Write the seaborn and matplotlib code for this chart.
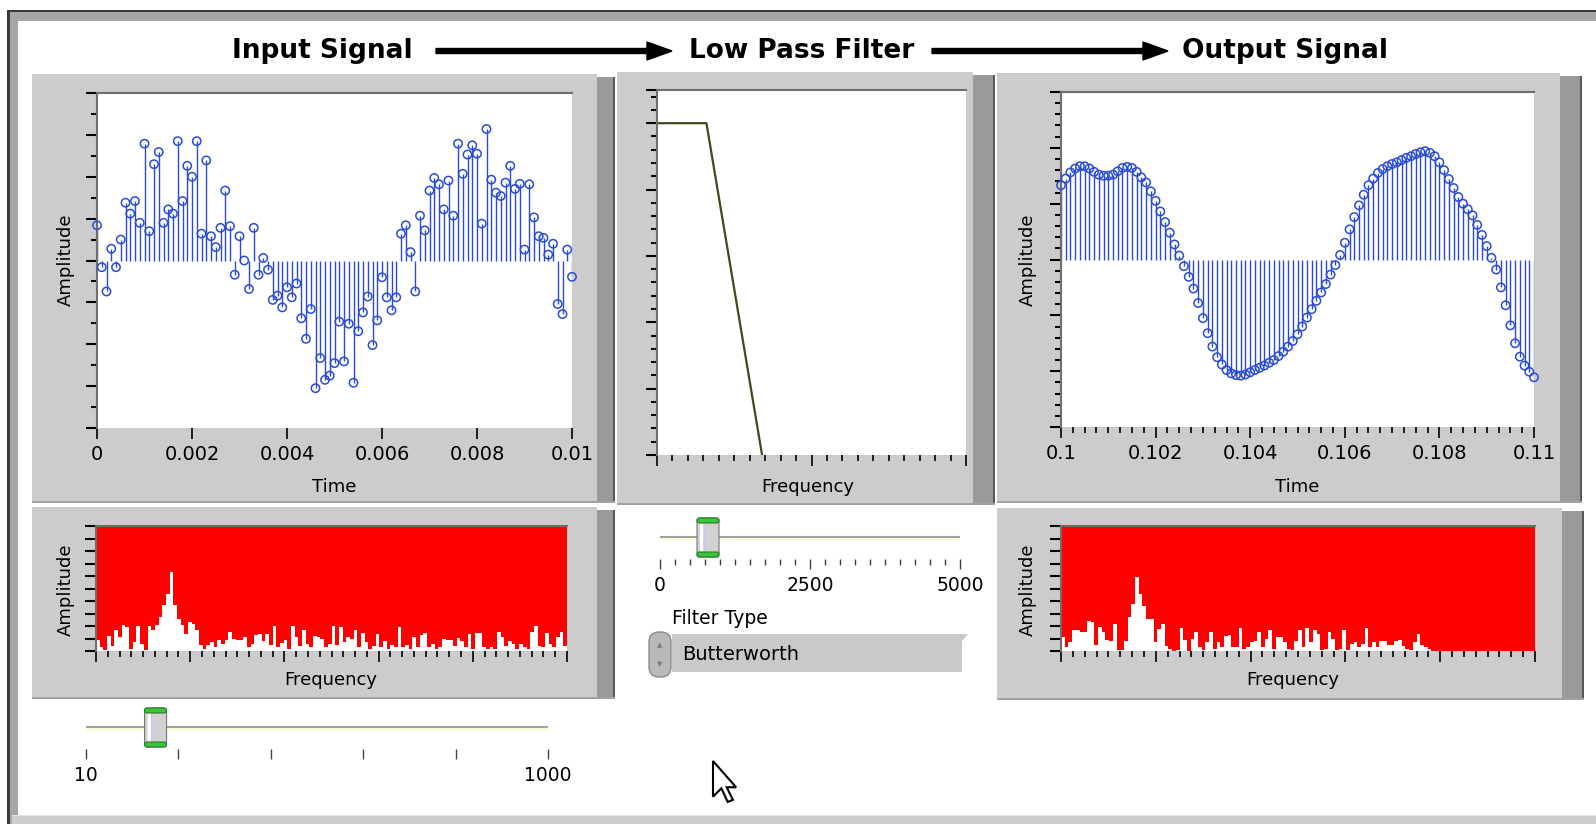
"""
Low pass filter demo panel: input signal, filter response and filtered output,
each signal with its amplitude spectrum, plus the two slider controls.
"""

import numpy as np
import matplotlib
matplotlib.use("Agg")
import matplotlib.pyplot as plt
import matplotlib.transforms as mtransforms
from matplotlib.patches import Rectangle, FancyBboxPatch, Polygon
from matplotlib.ticker import MultipleLocator, FixedLocator, NullFormatter
import seaborn as sns

# ---- values ----
input_amp = [
    0.84, -0.16, -0.74, 0.28, -0.16, 0.50, 1.38, 1.12, 1.42, 0.90,
    2.79, 0.70, 2.30, 2.59, 0.90, 1.22, 1.12, 2.85, 1.42, 2.26,
    2.00, 2.85, 0.64, 2.39, 0.58, 0.32, 0.78, 1.67, 0.82, -0.34,
    0.58, 0.00, -0.68, 0.78, -0.34, 0.06, -0.22, -0.94, -0.84, -1.12,
    -0.64, -0.88, -0.55, -1.38, -1.87, -1.16, -3.05, -2.33, -2.85, -2.75,
    -2.45, -1.46, -2.41, -1.51, -2.92, -1.69, -1.24, -0.86, -2.02, -1.43,
    -0.40, -0.88, -1.19, -0.88, 0.64, 0.84, 0.20, -0.74, 1.07, 0.72,
    1.67, 1.97, 1.82, 1.22, 1.91, 1.07, 2.79, 2.07, 2.53, 2.75,
    2.55, 0.88, 3.14, 1.93, 1.62, 1.54, 1.86, 2.26, 1.71, 1.83,
    0.26, 1.82, 1.03, 0.58, 0.54, 0.14, 0.40, -1.04, -1.28, 0.26,
    -0.39,
]
output_amp = [
    1.33, 1.45, 1.56, 1.63, 1.67, 1.67, 1.63, 1.57, 1.52, 1.50,
    1.50, 1.52, 1.58, 1.64, 1.66, 1.64, 1.57, 1.47, 1.38, 1.22,
    1.05, 0.86, 0.67, 0.48, 0.27, 0.07, -0.12, -0.31, -0.52, -0.78,
    -1.05, -1.32, -1.56, -1.75, -1.88, -1.98, -2.04, -2.07, -2.08, -2.06,
    -2.02, -1.98, -1.94, -1.90, -1.85, -1.80, -1.73, -1.65, -1.56, -1.46,
    -1.34, -1.20, -1.04, -0.89, -0.74, -0.59, -0.44, -0.27, -0.10, 0.08,
    0.30, 0.54, 0.76, 0.97, 1.16, 1.33, 1.45, 1.55, 1.62, 1.67,
    1.71, 1.74, 1.78, 1.82, 1.85, 1.89, 1.92, 1.94, 1.91, 1.85,
    1.74, 1.60, 1.44, 1.28, 1.12, 1.00, 0.90, 0.79, 0.62, 0.44,
    0.24, 0.03, -0.18, -0.50, -0.82, -1.18, -1.50, -1.74, -1.90, -2.01,
    -2.11,
]
input_spectrum = [
    0.85, 0.3, 0.1, 1.2, 0.4, 1.65, 1.1, 2.1, 1.9, 0.2,
    0.7, 2.0, 0.6, 0.1, 2.0, 1.7, 2.1, 2.7, 3.7, 4.6,
    6.3, 3.7, 2.6, 2.1, 1.4, 2.3, 2.2, 1.7, 0.45, 0.2,
    0.45, 0.7, 0.3, 0.85, 0.6, 0.9, 1.5, 1.0, 0.85, 0.9,
    1.1, 0.3, 0.6, 1.25, 1.35, 0.8, 1.35, 0.45, 2.0, 0.3,
    0.65, 0.85, 0.2, 2.0, 1.1, 0.4, 1.65, 0.6, 0.3, 1.2,
    1.1, 1.0, 0.3, 0.55, 2.0, 0.5, 1.9, 0.7, 1.1, 1.0,
    1.65, 0.3, 1.45, 0.7, 0.2, 0.4, 1.35, 0.3, 0.8, 0.2,
    0.45, 0.3, 1.9, 0.3, 0.45, 0.2, 1.1, 0.3, 1.25, 1.45,
    0.3, 0.55, 0.2, 0.3, 1.0, 0.9, 0.9, 0.4, 1.05, 0.8,
    0.3, 1.35, 0.2, 1.45, 1.45, 0.3, 0.2, 0.3, 0.2, 1.5,
    1.1, 0.4, 0.8, 0.6, 0.2, 0.55, 0.3, 0.2, 1.5, 2.0,
    0.4, 0.3, 1.45, 0.6, 0.3, 1.1, 1.5, 0.4,
]
output_spectrum = [
    1.15, 0.3, 0.7, 1.65, 1.65, 1.5, 1.5, 2.4, 2.3, 0.5,
    1.95, 1.5, 0.85, 0.8, 2.15, 0.1, 0.1, 0.8, 2.7, 3.8,
    5.9, 4.6, 3.6, 2.55, 2.6, 0.7, 1.75, 2.15, 0.4, 0.2,
    0.0, 0.1, 1.85, 0.85, 0.0, 0.95, 1.5, 0.3, 0.1, 0.7,
    1.5, 0.15, 0.7, 0.3, 1.2, 1.3, 0.3, 0.3, 1.85, 0.2,
    0.3, 0.7, 0.8, 1.5, 0.3, 0.95, 1.65, 0.2, 1.1, 1.15,
    0.7, 0.2, 0.1, 0.8, 1.65, 0.3, 1.85, 0.7, 1.65, 1.4,
    0.1, 0.2, 1.5, 0.95, 0.1, 0.2, 1.65, 0.1, 0.55, 0.7,
    0.3, 0.55, 1.85, 0.3, 0.7, 0.3, 0.8, 0.8, 0.5, 0.5,
    0.8, 0.85, 0.4, 0.15, 0.1, 0.7, 1.35, 0.5, 0.3, 0.15,
    0.0, 0.0, 0.0, 0.0, 0.0, 0.0, 0.0, 0.0, 0.0, 0.0,
    0.0, 0.0, 0.0, 0.0, 0.0, 0.0, 0.0, 0.0, 0.0, 0.0,
    0.0, 0.0, 0.0, 0.0, 0.0, 0.0, 0.0, 0.0,
]
filter_freq = [0, 800, 1700]
filter_db = [0, 0, -100]

input_time_ticks = [0, 0.002, 0.004, 0.006, 0.008, 0.01]
input_time_labels = ["0", "0.002", "0.004", "0.006", "0.008", "0.01"]
output_time_ticks = [0.1, 0.102, 0.104, 0.106, 0.108, 0.11]
output_time_labels = ["0.1", "0.102", "0.104", "0.106", "0.108", "0.11"]

signal_freq = 20
signal_freq_ticks = [10, 25, 63, 158, 398, 1000]
signal_freq_labels = ["10", "", "", "", "", "1000"]
cutoff_freq = 800
cutoff_ticks = [0, 2500, 5000]
cutoff_labels = ["0", "2500", "5000"]
cutoff_minor_ticks = [250, 500, 750, 1000, 1250, 1500, 1750, 2000, 2250,
                      2750, 3000, 3250, 3500, 3750, 4000, 4250, 4500, 4750]
filter_type = "Butterworth"
titles = ["Input Signal", "Low Pass Filter", "Output Signal"]

dt = 1e-4
t_in = np.arange(len(input_amp)) * dt
t_out = 0.1 + np.arange(len(output_amp)) * dt
nyquist = 5000
bin_width = nyquist / len(input_spectrum)
spec_freq = np.arange(len(input_spectrum)) * bin_width

# ---- layout (pixels) ----
W, H = 1596, 824
BLUE = "#2a4bd7"
GRAY = "#cccccc"
SHADOW = "#9a9a9a"

BOX_IN = (97, 93, 572, 428)
BOX_IN_SPEC = (96, 526, 567, 651)
BOX_FILTER = (657, 90, 966, 455)
BOX_OUT = (1061, 92, 1534, 427)
BOX_OUT_SPEC = (1061, 526, 1535, 651)
BOX_SLIDER_F = (86, 700, 548, 749)
BOX_SLIDER_C = (660, 510, 960, 559)

sns.set_style("white")
plt.rcParams["font.family"] = ["DejaVu Sans"]
plt.rcParams.update({"text.color": "black", "axes.labelcolor": "black",
                     "xtick.color": "black", "ytick.color": "black"})

fig = plt.figure(figsize=(W / 100, H / 100), dpi=100)
fig.patch.set_facecolor("white")

bg = fig.add_axes([0, 0, 1, 1])
bg.set_xlim(0, W)
bg.set_ylim(H, 0)
bg.axis("off")


def rect(x0, y0, x1, y1, fc, **kw):
    bg.add_patch(Rectangle((x0, y0), x1 - x0, y1 - y0, fc=fc, ec="none", **kw))


# window frame
rect(7, 10, W + 5, H + 5, "#3a3a3a")
rect(10, 12, W + 5, H + 5, "#a6a6a6")
rect(18, 21, W + 5, 815, "white")
rect(12, 815, W + 5, H + 5, "#cdcdcd")
rect(12, 815, W + 5, 816, "#e4e4e4")

# raised gray panels behind the graphs: (left, top, right, bottom, shadow right)
for x0, y0, x1, y1, sx in [(32, 74, 597, 503, 615), (32, 507, 597, 699, 615),
                           (617, 72, 973, 505, 995), (997, 73, 1560, 503, 1582),
                           (997, 508, 1562, 700, 1584)]:
    rect(x0, y0, x1, y1, GRAY)
    rect(x1, y0 + 3, sx, y1, SHADOW)
    rect(sx - 2, y0 + 3, sx, y1, "#5a5a5a")
    rect(x0, y1 - 2, sx, y1, "#a2a2a2")

# titles and arrows
for x, s in zip([322, 802, 1285], titles):
    bg.text(x, 51, s, ha="center", va="center", fontsize=19, fontweight="bold")
for x0, x1 in [(436, 672), (932, 1168)]:
    bg.arrow(x0, 51, x1 - x0, 0, width=5, head_width=18, head_length=25,
             length_includes_head=True, fc="black", ec="black")


def px_axes(box):
    x0, y0, x1, y1 = box
    return fig.add_axes([x0 / W, 1 - y1 / H, (x1 - x0) / W, (y1 - y0) / H])


def style_plot(ax, face):
    ax.set_facecolor(face)
    for side in ("right", "bottom"):
        ax.spines[side].set_visible(False)
    for side in ("top", "left"):
        ax.spines[side].set_color("#6e6e6e")
        ax.spines[side].set_linewidth(1.5)
    ax.tick_params(which="both", direction="out", colors="black", left=True,
                   bottom=True, top=False, right=False, labelleft=False)
    ax.tick_params(axis="y", which="major", length=8, width=1.5)
    ax.tick_params(axis="y", which="minor", length=4.5, width=1.5)
    ax.tick_params(axis="x", which="major", length=8, width=1.2, pad=4.5, labelsize=14)
    ax.tick_params(axis="x", which="minor", length=4.5, width=1.2)


def place_labels(ax, box, xlabel=None, xpos=None, ylabel=None, ypos=None):
    x0, y0, x1, y1 = box
    if xlabel:
        ax.set_xlabel(xlabel, fontsize=13, visible=True)
        ax.xaxis.set_label_coords((xpos[0] - x0) / (x1 - x0), (y1 - xpos[1]) / (y1 - y0))
        ax.xaxis.label.set_va("center")
    if ylabel:
        ax.set_ylabel(ylabel, fontsize=13, visible=True)
        ax.yaxis.set_label_coords((ypos[0] - x0) / (x1 - x0), (y1 - ypos[1]) / (y1 - y0))
        ax.yaxis.label.set_va("center")


def stem_plot(ax, t, amp):
    ax.vlines(t, 0, amp, color=BLUE, lw=1.0)
    sns.scatterplot(x=t, y=amp, ax=ax, marker="o", s=36, legend=False, zorder=3,
                    clip_on=False)
    pts = ax.collections[-1]
    pts.set_facecolor("none")
    pts.set_edgecolor(BLUE)
    pts.set_linewidth(1.1)


def spectrum_plot(ax, spec):
    style_plot(ax, "#ff0000")
    ax.bar(spec_freq, spec, width=bin_width, align="edge", color="white", linewidth=0)
    ax.set_xlim(0, nyquist)
    ax.set_ylim(0, 10)
    ax.yaxis.set_major_locator(MultipleLocator(1))
    ax.xaxis.set_major_locator(MultipleLocator(1000))
    ax.xaxis.set_minor_locator(MultipleLocator(125))
    ax.xaxis.set_major_formatter(NullFormatter())


# input signal
ax = px_axes(BOX_IN)
style_plot(ax, "white")
stem_plot(ax, t_in, input_amp)
ax.set_xlim(0, 0.01)
ax.set_ylim(-4, 4)
ax.yaxis.set_major_locator(MultipleLocator(1))
ax.yaxis.set_minor_locator(MultipleLocator(0.5))
ax.set_xticks(input_time_ticks, input_time_labels)
place_labels(ax, BOX_IN, "Time", (334, 487), "Amplitude", (66, 260))

ax = px_axes(BOX_IN_SPEC)
spectrum_plot(ax, input_spectrum)
place_labels(ax, BOX_IN_SPEC, "Frequency", (331, 680), "Amplitude", (66, 590))

# filter response
ax = px_axes(BOX_FILTER)
style_plot(ax, "white")
sns.lineplot(x=filter_freq, y=filter_db, ax=ax, color="#46461c", lw=1.6)
ax.set_xlim(0, nyquist)
ax.set_ylim(-100, 10)
ax.yaxis.set_major_locator(FixedLocator([-100, -80, -60, -40, -20, 0, 10]))
ax.yaxis.set_minor_locator(MultipleLocator(4))
ax.xaxis.set_major_locator(MultipleLocator(2500))
ax.xaxis.set_minor_locator(MultipleLocator(250))
ax.xaxis.set_major_formatter(NullFormatter())
place_labels(ax, BOX_FILTER, "Frequency", (808, 487))

# output signal
ax = px_axes(BOX_OUT)
style_plot(ax, "white")
stem_plot(ax, t_out, output_amp)
ax.set_xlim(0.1, 0.11)
ax.set_ylim(-3, 3)
ax.yaxis.set_major_locator(MultipleLocator(1))
ax.yaxis.set_minor_locator(MultipleLocator(0.2))
ax.set_xticks(output_time_ticks, output_time_labels)
ax.xaxis.set_minor_locator(MultipleLocator(0.00025))
place_labels(ax, BOX_OUT, "Time", (1297, 487), "Amplitude", (1028, 260))

ax = px_axes(BOX_OUT_SPEC)
spectrum_plot(ax, output_spectrum)
place_labels(ax, BOX_OUT_SPEC, "Frequency", (1293, 680), "Amplitude", (1028, 590))


# sliders
def draw_thumb(ax, value, y):
    cx, cy = ax.transData.transform((value, y))
    at = mtransforms.Affine2D().translate(cx, cy)
    parts = [
        (-11, -19.5, 22, 39, "#d2d2d2", "#767676"),
        (-8, -15, 3.5, 30, "#ffffff", "none"),
        (-4.5, -15, 1.5, 30, "#c4c4ff", "none"),
        (-11, 14.5, 22, 5, "#3cc43c", "#237f23"),
        (-11, -19.5, 22, 5, "#3cc43c", "#237f23"),
    ]
    for x0, y0, w, h, fc, ec in parts:
        fig.add_artist(FancyBboxPatch((x0, y0), w, h, boxstyle="round,pad=0,rounding_size=2.5",
                                      fc=fc, ec=ec, lw=0.8, transform=at, clip_on=False))


def slider(box, scale, lim, value, ticks, labels, minor=None):
    ax = px_axes(box)
    ax.set_facecolor("none")
    for s in ax.spines.values():
        s.set_visible(False)
    ax.set_xscale(scale)
    ax.set_xlim(*lim)
    ax.set_ylim(box[3] - box[1], 0)
    ax.axhline(27, color="#a0a0a0", lw=1.5)
    ax.axhline(29, color="#fbfbd2", lw=1.5)
    ax.xaxis.set_major_locator(FixedLocator(ticks))
    ax.set_xticklabels(labels)
    ax.xaxis.set_minor_locator(FixedLocator(minor or []))
    ax.tick_params(which="both", direction="out", colors="#404040", labelcolor="black",
                   left=False, bottom=True, labelleft=False, labelsize=13.5)
    ax.tick_params(which="major", length=7, width=1, pad=5)
    ax.tick_params(which="minor", length=4.5, width=1)
    draw_thumb(ax, value, 27.5)
    return ax


slider(BOX_SLIDER_F, "log", (10, 1000), signal_freq, signal_freq_ticks, signal_freq_labels)
slider(BOX_SLIDER_C, "linear", (0, nyquist), cutoff_freq, cutoff_ticks, cutoff_labels,
       minor=cutoff_minor_ticks)

# filter type ring control
bg.text(672, 618, "Filter Type", ha="left", va="center", fontsize=13.5)
bg.add_patch(Polygon([(672, 634), (968, 634), (962, 641), (962, 672), (672, 672)],
                     closed=True, fc="#c9c9c9", ec="none"))
bg.add_patch(FancyBboxPatch((649, 632), 22, 45, boxstyle="round,pad=0,rounding_size=10",
                            fc="#b9b9b9", ec="#8c8c8c", lw=1))
bg.text(660, 645, "\u25b2", ha="center", va="center", fontsize=5, color="#7a7a7a")
bg.text(660, 664, "\u25bc", ha="center", va="center", fontsize=5, color="#7a7a7a")
bg.text(682, 655, filter_type, ha="left", va="center", fontsize=14)

# mouse pointer
tip_x, tip_y = 713, 761
cursor = np.array([(0, 0), (0, 17), (4, 13), (7, 19.5), (9.5, 18.5), (6.5, 12.5), (11, 12.5)])
bg.add_patch(Polygon(cursor * 2.1 + (tip_x, tip_y), closed=True, fc="white", ec="black", lw=1.5))

fig.savefig("out.png", dpi=100)
